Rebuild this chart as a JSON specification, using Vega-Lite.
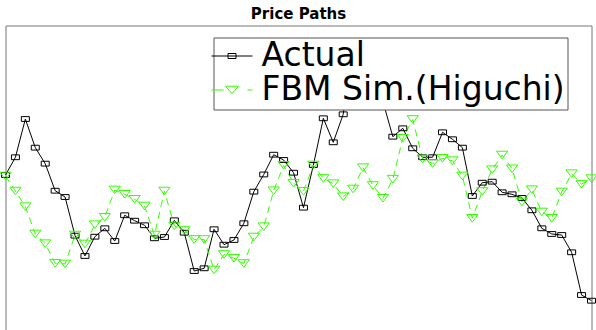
{
  "$schema": "https://vega.github.io/schema/vega-lite/v6.json",
  "width": 586,
  "height": 306,
  "autosize": {"type": "none"},
  "padding": {"left": 5.5, "top": 25.5, "right": 4.5, "bottom": -1.5},
  "background": "white",
  "title": {
    "text": "Price Paths",
    "font": "DejaVu Sans",
    "fontSize": 15,
    "fontWeight": "bold",
    "color": "black",
    "anchor": "middle",
    "baseline": "alphabetic",
    "offset": 3.5,
    "dy": 12
  },
  "config": {
    "view": {"stroke": "#777", "strokeWidth": 1}
  },
  "data": {
    "values": [
      {"t": 0, "series": "Actual", "price": 101.31},
      {"t": 1, "series": "Actual", "price": 103.53},
      {"t": 2, "series": "Actual", "price": 108.31},
      {"t": 3, "series": "Actual", "price": 104.73},
      {"t": 4, "series": "Actual", "price": 102.73},
      {"t": 5, "series": "Actual", "price": 99.35},
      {"t": 6, "series": "Actual", "price": 98.56},
      {"t": 7, "series": "Actual", "price": 93.73},
      {"t": 8, "series": "Actual", "price": 91.19},
      {"t": 9, "series": "Actual", "price": 93.60},
      {"t": 10, "series": "Actual", "price": 94.65},
      {"t": 11, "series": "Actual", "price": 93.06},
      {"t": 12, "series": "Actual", "price": 96.28},
      {"t": 13, "series": "Actual", "price": 95.60},
      {"t": 14, "series": "Actual", "price": 95.03},
      {"t": 15, "series": "Actual", "price": 93.40},
      {"t": 16, "series": "Actual", "price": 93.56},
      {"t": 17, "series": "Actual", "price": 95.65},
      {"t": 18, "series": "Actual", "price": 94.10},
      {"t": 19, "series": "Actual", "price": 89.31},
      {"t": 20, "series": "Actual", "price": 89.65},
      {"t": 21, "series": "Actual", "price": 94.53},
      {"t": 22, "series": "Actual", "price": 92.60},
      {"t": 23, "series": "Actual", "price": 93.19},
      {"t": 24, "series": "Actual", "price": 95.28},
      {"t": 25, "series": "Actual", "price": 99.23},
      {"t": 26, "series": "Actual", "price": 101.38},
      {"t": 27, "series": "Actual", "price": 103.85},
      {"t": 28, "series": "Actual", "price": 103.19},
      {"t": 29, "series": "Actual", "price": 101.60},
      {"t": 30, "series": "Actual", "price": 97.23},
      {"t": 31, "series": "Actual", "price": 102.56},
      {"t": 32, "series": "Actual", "price": 108.40},
      {"t": 33, "series": "Actual", "price": 105.40},
      {"t": 34, "series": "Actual", "price": 108.90},
      {"t": 35, "series": "Actual", "price": 117.19},
      {"t": 36, "series": "Actual", "price": 114.44},
      {"t": 37, "series": "Actual", "price": 115.94},
      {"t": 38, "series": "Actual", "price": 110.50},
      {"t": 39, "series": "Actual", "price": 106.10},
      {"t": 40, "series": "Actual", "price": 107.15},
      {"t": 41, "series": "Actual", "price": 104.65},
      {"t": 42, "series": "Actual", "price": 103.53},
      {"t": 43, "series": "Actual", "price": 103.53},
      {"t": 44, "series": "Actual", "price": 106.65},
      {"t": 45, "series": "Actual", "price": 105.78},
      {"t": 46, "series": "Actual", "price": 104.73},
      {"t": 47, "series": "Actual", "price": 98.69},
      {"t": 48, "series": "Actual", "price": 100.35},
      {"t": 49, "series": "Actual", "price": 100.48},
      {"t": 50, "series": "Actual", "price": 99.15},
      {"t": 51, "series": "Actual", "price": 98.90},
      {"t": 52, "series": "Actual", "price": 98.44},
      {"t": 53, "series": "Actual", "price": 96.90},
      {"t": 54, "series": "Actual", "price": 94.65},
      {"t": 55, "series": "Actual", "price": 93.94},
      {"t": 56, "series": "Actual", "price": 93.81},
      {"t": 57, "series": "Actual", "price": 91.65},
      {"t": 58, "series": "Actual", "price": 86.31},
      {"t": 59, "series": "Actual", "price": 85.60},
      {"t": 0, "series": "FBM Sim.(Higuchi)", "price": 101.19},
      {"t": 1, "series": "FBM Sim.(Higuchi)", "price": 99.31},
      {"t": 2, "series": "FBM Sim.(Higuchi)", "price": 97.35},
      {"t": 3, "series": "FBM Sim.(Higuchi)", "price": 93.94},
      {"t": 4, "series": "FBM Sim.(Higuchi)", "price": 92.73},
      {"t": 5, "series": "FBM Sim.(Higuchi)", "price": 90.28},
      {"t": 6, "series": "FBM Sim.(Higuchi)", "price": 90.19},
      {"t": 7, "series": "FBM Sim.(Higuchi)", "price": 93.81},
      {"t": 8, "series": "FBM Sim.(Higuchi)", "price": 92.69},
      {"t": 9, "series": "FBM Sim.(Higuchi)", "price": 95.10},
      {"t": 10, "series": "FBM Sim.(Higuchi)", "price": 96.03},
      {"t": 11, "series": "FBM Sim.(Higuchi)", "price": 99.44},
      {"t": 12, "series": "FBM Sim.(Higuchi)", "price": 98.90},
      {"t": 13, "series": "FBM Sim.(Higuchi)", "price": 98.28},
      {"t": 14, "series": "FBM Sim.(Higuchi)", "price": 97.44},
      {"t": 15, "series": "FBM Sim.(Higuchi)", "price": 93.81},
      {"t": 16, "series": "FBM Sim.(Higuchi)", "price": 99.31},
      {"t": 17, "series": "FBM Sim.(Higuchi)", "price": 94.94},
      {"t": 18, "series": "FBM Sim.(Higuchi)", "price": 94.38},
      {"t": 19, "series": "FBM Sim.(Higuchi)", "price": 93.25},
      {"t": 20, "series": "FBM Sim.(Higuchi)", "price": 93.25},
      {"t": 21, "series": "FBM Sim.(Higuchi)", "price": 89.44},
      {"t": 22, "series": "FBM Sim.(Higuchi)", "price": 91.38},
      {"t": 23, "series": "FBM Sim.(Higuchi)", "price": 90.90},
      {"t": 24, "series": "FBM Sim.(Higuchi)", "price": 90.25},
      {"t": 25, "series": "FBM Sim.(Higuchi)", "price": 93.56},
      {"t": 26, "series": "FBM Sim.(Higuchi)", "price": 94.85},
      {"t": 27, "series": "FBM Sim.(Higuchi)", "price": 99.34},
      {"t": 28, "series": "FBM Sim.(Higuchi)", "price": 102.53},
      {"t": 29, "series": "FBM Sim.(Higuchi)", "price": 100.28},
      {"t": 30, "series": "FBM Sim.(Higuchi)", "price": 99.28},
      {"t": 31, "series": "FBM Sim.(Higuchi)", "price": 102.56},
      {"t": 32, "series": "FBM Sim.(Higuchi)", "price": 100.88},
      {"t": 33, "series": "FBM Sim.(Higuchi)", "price": 100.23},
      {"t": 34, "series": "FBM Sim.(Higuchi)", "price": 98.60},
      {"t": 35, "series": "FBM Sim.(Higuchi)", "price": 99.56},
      {"t": 36, "series": "FBM Sim.(Higuchi)", "price": 102.23},
      {"t": 37, "series": "FBM Sim.(Higuchi)", "price": 100.00},
      {"t": 38, "series": "FBM Sim.(Higuchi)", "price": 98.40},
      {"t": 39, "series": "FBM Sim.(Higuchi)", "price": 100.79},
      {"t": 40, "series": "FBM Sim.(Higuchi)", "price": 105.90},
      {"t": 41, "series": "FBM Sim.(Higuchi)", "price": 108.25},
      {"t": 42, "series": "FBM Sim.(Higuchi)", "price": 103.31},
      {"t": 43, "series": "FBM Sim.(Higuchi)", "price": 102.75},
      {"t": 44, "series": "FBM Sim.(Higuchi)", "price": 103.40},
      {"t": 45, "series": "FBM Sim.(Higuchi)", "price": 103.10},
      {"t": 46, "series": "FBM Sim.(Higuchi)", "price": 101.19},
      {"t": 47, "series": "FBM Sim.(Higuchi)", "price": 95.90},
      {"t": 48, "series": "FBM Sim.(Higuchi)", "price": 99.25},
      {"t": 49, "series": "FBM Sim.(Higuchi)", "price": 101.98},
      {"t": 50, "series": "FBM Sim.(Higuchi)", "price": 103.81},
      {"t": 51, "series": "FBM Sim.(Higuchi)", "price": 102.09},
      {"t": 52, "series": "FBM Sim.(Higuchi)", "price": 97.94},
      {"t": 53, "series": "FBM Sim.(Higuchi)", "price": 99.48},
      {"t": 54, "series": "FBM Sim.(Higuchi)", "price": 96.69},
      {"t": 55, "series": "FBM Sim.(Higuchi)", "price": 95.90},
      {"t": 56, "series": "FBM Sim.(Higuchi)", "price": 99.19},
      {"t": 57, "series": "FBM Sim.(Higuchi)", "price": 101.48},
      {"t": 58, "series": "FBM Sim.(Higuchi)", "price": 100.16},
      {"t": 59, "series": "FBM Sim.(Higuchi)", "price": 100.85}
    ]
  },
  "encoding": {
    "x": {
      "field": "t",
      "type": "quantitative",
      "scale": {"domain": [0, 59], "nice": false, "zero": false},
      "axis": null
    },
    "y": {
      "field": "price",
      "type": "quantitative",
      "scale": {"domain": [81.75, 120], "nice": false, "zero": false},
      "axis": null
    },
    "color": {
      "field": "series",
      "type": "nominal",
      "scale": {
        "domain": ["Actual", "FBM Sim.(Higuchi)"],
        "range": ["#000000", "#33ff00"]
      },
      "legend": {
        "orient": "none",
        "legendX": 208,
        "legendY": 12,
        "title": null,
        "labelFont": "DejaVu Sans",
        "labelFontSize": 33,
        "labelColor": "black",
        "labelLimit": 1000,
        "labelOffset": 13,
        "symbolSize": 100,
        "symbolStrokeWidth": 1,
        "padding": 2,
        "rowPadding": -7,
        "strokeColor": "#555",
        "fillColor": "white",
        "encode": {
          "symbols": {
            "update": {
              "shape": {"signal": "datum.value === 'Actual' ? 'M-4.1,0H4.1M-0.8,-0.5H0.8V0.5H-0.8Z' : 'M-4.1,0H-1.7M3.1,0H4.1M-1.3,-0.75H1.3L0,0.75Z'"},
              "fill": {"value": "transparent"},
              "strokeWidth": {"value": 1},
              "opacity": {"value": 1}
            }
          }
        }
      }
    }
  },
  "layer": [
    {
      "transform": [{"filter": "datum.series === 'Actual'"}],
      "mark": {"type": "line", "strokeWidth": 1}
    },
    {
      "transform": [{"filter": "datum.series !== 'Actual'"}],
      "mark": {"type": "line", "strokeWidth": 1, "strokeDash": [7, 5]}
    },
    {
      "transform": [{"filter": "datum.series === 'Actual'"}],
      "mark": {"type": "point", "filled": false, "strokeWidth": 1, "size": 64, "opacity": 1, "shape": "M-1,-0.6H1V0.6H-1Z"}
    },
    {
      "transform": [{"filter": "datum.series !== 'Actual'"}],
      "mark": {"type": "point", "filled": false, "strokeWidth": 1, "size": 64, "opacity": 1, "shape": "M-1.4,-0.95H1.4L0,0.95Z"}
    }
  ]
}
